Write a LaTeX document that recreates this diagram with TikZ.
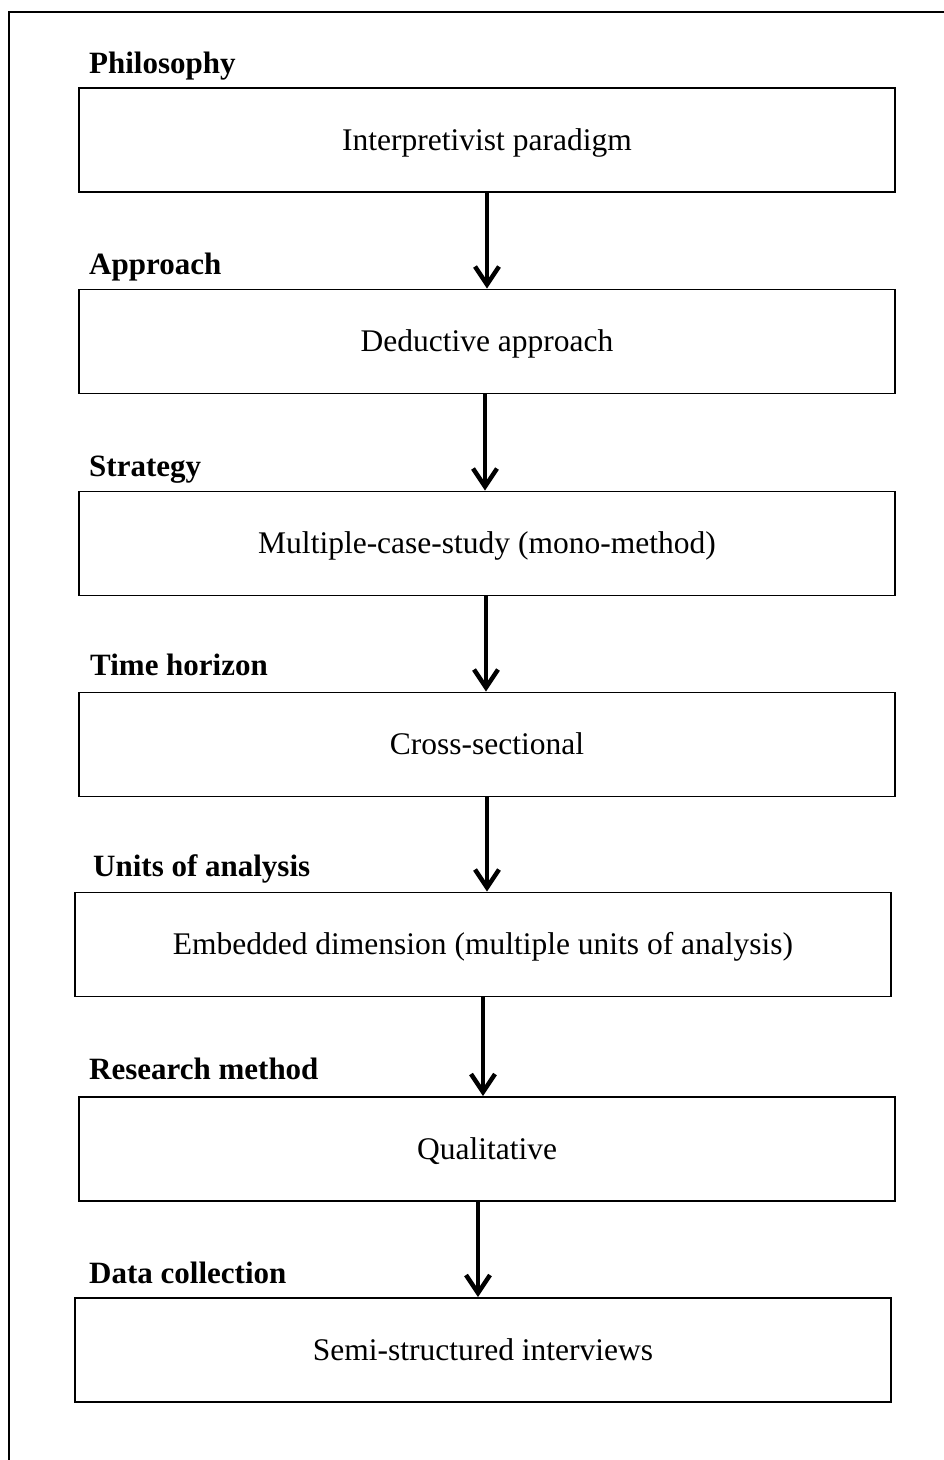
\documentclass[tikz,border=0pt]{standalone}
\usepackage{fontspec}
\setmainfont{Liberation Serif}
\usetikzlibrary{arrows.meta}
\tikzset{
  stagebox/.style={draw=black, line width=1.8pt, rectangle, minimum width=816pt, minimum height=104pt,
    inner sep=0pt, text height=26pt, text depth=6pt, font=\fontsize{31.5}{36}\selectfont},
  stagelabel/.style={anchor=base west, inner sep=0pt, font=\fontsize{31}{36}\selectfont\bfseries},
  flowarrow/.style={line width=4.5pt, -{Straight Barb[length=18pt,width=24pt,line width=4.5pt]}},
  frame/.style={line width=1.8pt}
}
\begin{document}
\begin{tikzpicture}[x=1pt,y=-1pt]
\useasboundingbox (0,0) rectangle (944,1460);
% outer frame (top and left only)
\coordinate (fr1) at (944,12);
\coordinate (fr0) at (9,12);
\coordinate (fr2) at (9,1460);
\draw[frame] (fr1) -- (fr0) -- (fr2);

% boxes
\node[stagebox] (b1) at (487,140) {Interpretivist paradigm};
\node[stagebox] (b2) at (487,341.5) {Deductive approach};
\node[stagebox] (b3) at (487,543.5) {Multiple-case-study (mono-method)};
\node[stagebox] (b4) at (487,744.5) {Cross-sectional};
\node[stagebox] (b5) at (483,944.5) {Embedded dimension (multiple units of analysis)};
\node[stagebox] (b6) at (487,1149) {Qualitative};
\node[stagebox] (b7) at (483,1350) {Semi-structured interviews};

% labels
\node[stagelabel] (l1) at (89,73) {Philosophy};
\node[stagelabel] (l2) at (89,274) {Approach};
\node[stagelabel] (l3) at (89,476) {Strategy};
\node[stagelabel] (l4) at (90,675) {Time horizon};
\node[stagelabel] (l5) at (93,876) {Units of analysis};
\node[stagelabel] (l6) at (89,1079) {Research method};
\node[stagelabel] (l7) at (89,1283) {Data collection};

% arrow x positions
\coordinate (x1) at (487,0);
\coordinate (x2) at (485,0);
\coordinate (x3) at (486,0);
\coordinate (x4) at (487,0);
\coordinate (x5) at (483,0);
\coordinate (x6) at (478,0);

\draw[flowarrow] (b1.south -| x1) -- (b2.north -| x1);
\draw[flowarrow] (b2.south -| x2) -- (b3.north -| x2);
\draw[flowarrow] (b3.south -| x3) -- (b4.north -| x3);
\draw[flowarrow] (b4.south -| x4) -- (b5.north -| x4);
\draw[flowarrow] (b5.south -| x5) -- (b6.north -| x5);
\draw[flowarrow] (b6.south -| x6) -- (b7.north -| x6);
\end{tikzpicture}
\end{document}
